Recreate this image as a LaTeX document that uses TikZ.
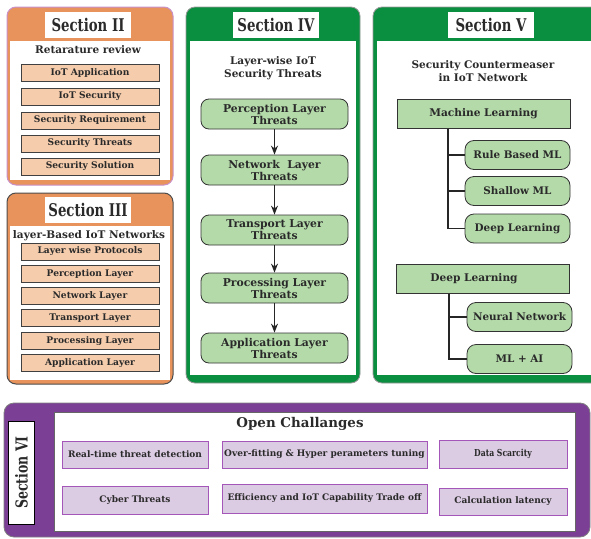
\documentclass[tikz,border=0pt]{standalone}
\usepackage{fontspec}
\setmainfont{DejaVu Serif}
\newfontfamily\headfont[FakeStretch=0.76]{DejaVu Serif}
\newfontfamily\narrowfont[FakeStretch=0.8]{DejaVu Serif}
\usetikzlibrary{positioning, arrows.meta, calc}
\definecolor{secorange}{HTML}{E8935C}
\definecolor{secpeach}{HTML}{F5CCAC}
\definecolor{secpink}{HTML}{C990C8}
\definecolor{secgreen}{HTML}{0A8E3F}
\definecolor{secmint}{HTML}{B4DAA9}
\definecolor{secpurple}{HTML}{7C3F96}
\definecolor{seclilac}{HTML}{DBCBE3}
\definecolor{secviolet}{HTML}{A457B8}
\definecolor{txtdark}{HTML}{2A2A2A}

\begin{document}
\begin{tikzpicture}[x=1pt, y=-1pt, text=txtdark,
    sectitle/.style={fill=white, inner sep=0pt, minimum width=86pt, minimum height=26pt,
                     font=\headfont\bfseries\fontsize{17.5}{17.5}\selectfont},
    subtitle/.style={align=center, inner sep=0pt, font=\bfseries\fontsize{10.5}{13.5}\selectfont},
    litem/.style={draw=black!75, fill=secpeach, line width=0.8pt, inner sep=0pt,
                  minimum width=138pt, minimum height=17pt, font=\bfseries\fontsize{9.1}{10}\selectfont},
    threat/.style={draw=black!80, fill=secmint, line width=0.8pt, rounded corners=8pt, align=center,
                   inner sep=0pt, minimum width=147pt, minimum height=30pt,
                   font=\bfseries\fontsize{10.8}{12}\selectfont},
    mlhead/.style={draw=black!80, fill=secmint, line width=1pt, inner sep=0pt,
                   minimum width=173pt, minimum height=29pt, font=\bfseries\fontsize{10.6}{11}\selectfont},
    mlleaf/.style={draw=black!80, fill=secmint, line width=0.8pt, rounded corners=9pt, inner sep=0pt,
                   minimum width=105pt, minimum height=29pt, font=\bfseries\fontsize{10.4}{11}\selectfont},
    challenge/.style={draw=secviolet, fill=seclilac, line width=1pt, inner sep=0pt,
                      minimum height=27pt, font=\bfseries\fontsize{9}{10}\selectfont},
    flow/.style={-{Stealth[length=9pt, width=7pt]}, line width=1.2pt, black!85},
    branch/.style={line width=1.2pt, black!85}]
\useasboundingbox (0,0) rectangle (591,538);

% Section II
\filldraw[draw=secpink, fill=secorange, line width=1pt, rounded corners=9pt] (7,7) rectangle (173,185);
\fill[white] (10,41) rectangle (170,180);
\node[sectitle] (s2) at (88,25) {Section II};
\node[subtitle] (s2sub) at (88,50) {Retarature review};
\node[litem] (rev1) at (90,72.5) {IoT Application};
\node[litem] (rev2) at (90,96.5) {IoT Security};
\node[litem] (rev3) at (90,120.5) {Security Requirement};
\node[litem] (rev4) at (90,143.5) {Security Threats};
\node[litem] (rev5) at (90,166.5) {Security Solution};

% Section III
\filldraw[draw=black!70, fill=secorange, line width=1pt, rounded corners=9pt] (7,193) rectangle (173,384);
\fill[white] (10,226) rectangle (170,380);
\node[sectitle] (s3) at (88,210) {Section III};
\node[subtitle] (s3sub) at (89,236) {layer-Based IoT Networks};
\node[litem] (lay1) at (90,251.5) {Layer wise Protocols};
\node[litem] (lay2) at (90,274) {Perception Layer};
\node[litem] (lay3) at (90,296) {Network Layer};
\node[litem] (lay4) at (90,318) {Transport Layer};
\node[litem] (lay5) at (90,341) {Processing Layer};
\node[litem] (lay6) at (90,363) {Application Layer};

% Section IV
\filldraw[draw=black!40, fill=secgreen, line width=0.8pt, rounded corners=9pt] (186,7) rectangle (360,383);
\fill[white] (190,41) rectangle (356,375);
\node[sectitle] (s4) at (276,25) {Section IV};
\node[subtitle] (s4sub) at (273,68) {Layer-wise IoT\\Security Threats};
\node[threat] (thr1) at (274.5,114) {Perception Layer\\Threats};
\node[threat] (thr2) at (274.5,170) {Network\ \ Layer\\Threats};
\node[threat] (thr3) at (274.5,230) {Transport Layer\\Threats};
\node[threat] (thr4) at (274.5,288) {Processing Layer\\Threats};
\node[threat] (thr5) at (274.5,348) {Application Layer\\Threats};
\foreach \a/\b in {thr1/thr2, thr2/thr3, thr3/thr4, thr4/thr5}
  \draw[flow] (\a) -- (\b);

% Section V
\filldraw[draw=black!40, fill=secgreen, line width=0.8pt, rounded corners=9pt] (373,7) rectangle (600,383);
\fill[white] (377,41) rectangle (600,375);
\node[sectitle] (s5) at (491,25) {Section V};
\node[subtitle] (s5sub) at (483,71) {Security Countermeaser\\in IoT Network};
\node[mlhead] (ml) at (483.5,113.5) {Machine Learning};
\node[mlleaf] (rbml) at (517.5,155) {Rule Based ML};
\node[mlleaf] (shml) at (517.5,191) {Shallow ML};
\node[mlleaf] (dlml) at (517.5,228.5) {Deep Learning};
\node[mlhead] (dl) at (482.5,278.5) {\hspace*{-17pt}Deep Learning};
\node[mlleaf] (nn) at (519.5,317) {Neural Network};
\node[mlleaf] (mlai) at (519.5,359) {ML + AI};
\coordinate (mltrunk) at (ml.south -| 448,0);
\coordinate (dltrunk) at (dl.south -| 449,0);
\foreach \c in {rbml, shml, dlml}
  \draw[branch] (mltrunk) |- (\c.west);
\foreach \c in {nn, mlai}
  \draw[branch] (dltrunk) |- (\c.west);

% Section VI
\filldraw[draw=black!50, fill=secpurple, line width=0.8pt, rounded corners=10pt] (4,403) rectangle (590,537);
\filldraw[draw=black!60, fill=white, line width=0.8pt] (54,412) rectangle (575,531);
\node[draw=black, fill=white, line width=0.8pt, rotate=90, inner sep=0pt, minimum width=103pt,
      minimum height=26pt, font=\headfont\bfseries\fontsize{16.5}{16.5}\selectfont] (s6) at (21.5,472.5) {Section VI};
\node[font=\bfseries\fontsize{13.4}{14}\selectfont, inner sep=0pt] (open) at (300,424) {Open Challanges};
\node[challenge, minimum width=146pt] (ch1) at (135,454.5) {Real-time threat detection};
\node[challenge, minimum width=205pt] (ch2) at (324.5,454.5) {Over-fitting \& Hyper perameters tuning};
\node[challenge, minimum width=128pt, minimum height=28pt, font=\narrowfont\bfseries\fontsize{9.6}{10}\selectfont] (ch3) at (503,454) {Data Scarcity};
\node[challenge, minimum width=146pt, minimum height=28pt] (ch4) at (135,500) {Cyber Threats};
\node[challenge, minimum width=205pt, minimum height=29pt] (ch5) at (324.5,498.5) {Efficiency and IoT Capability Trade off};
\node[challenge, minimum width=128pt] (ch6) at (503,501.5) {Calculation latency};
\end{tikzpicture}
\end{document}
